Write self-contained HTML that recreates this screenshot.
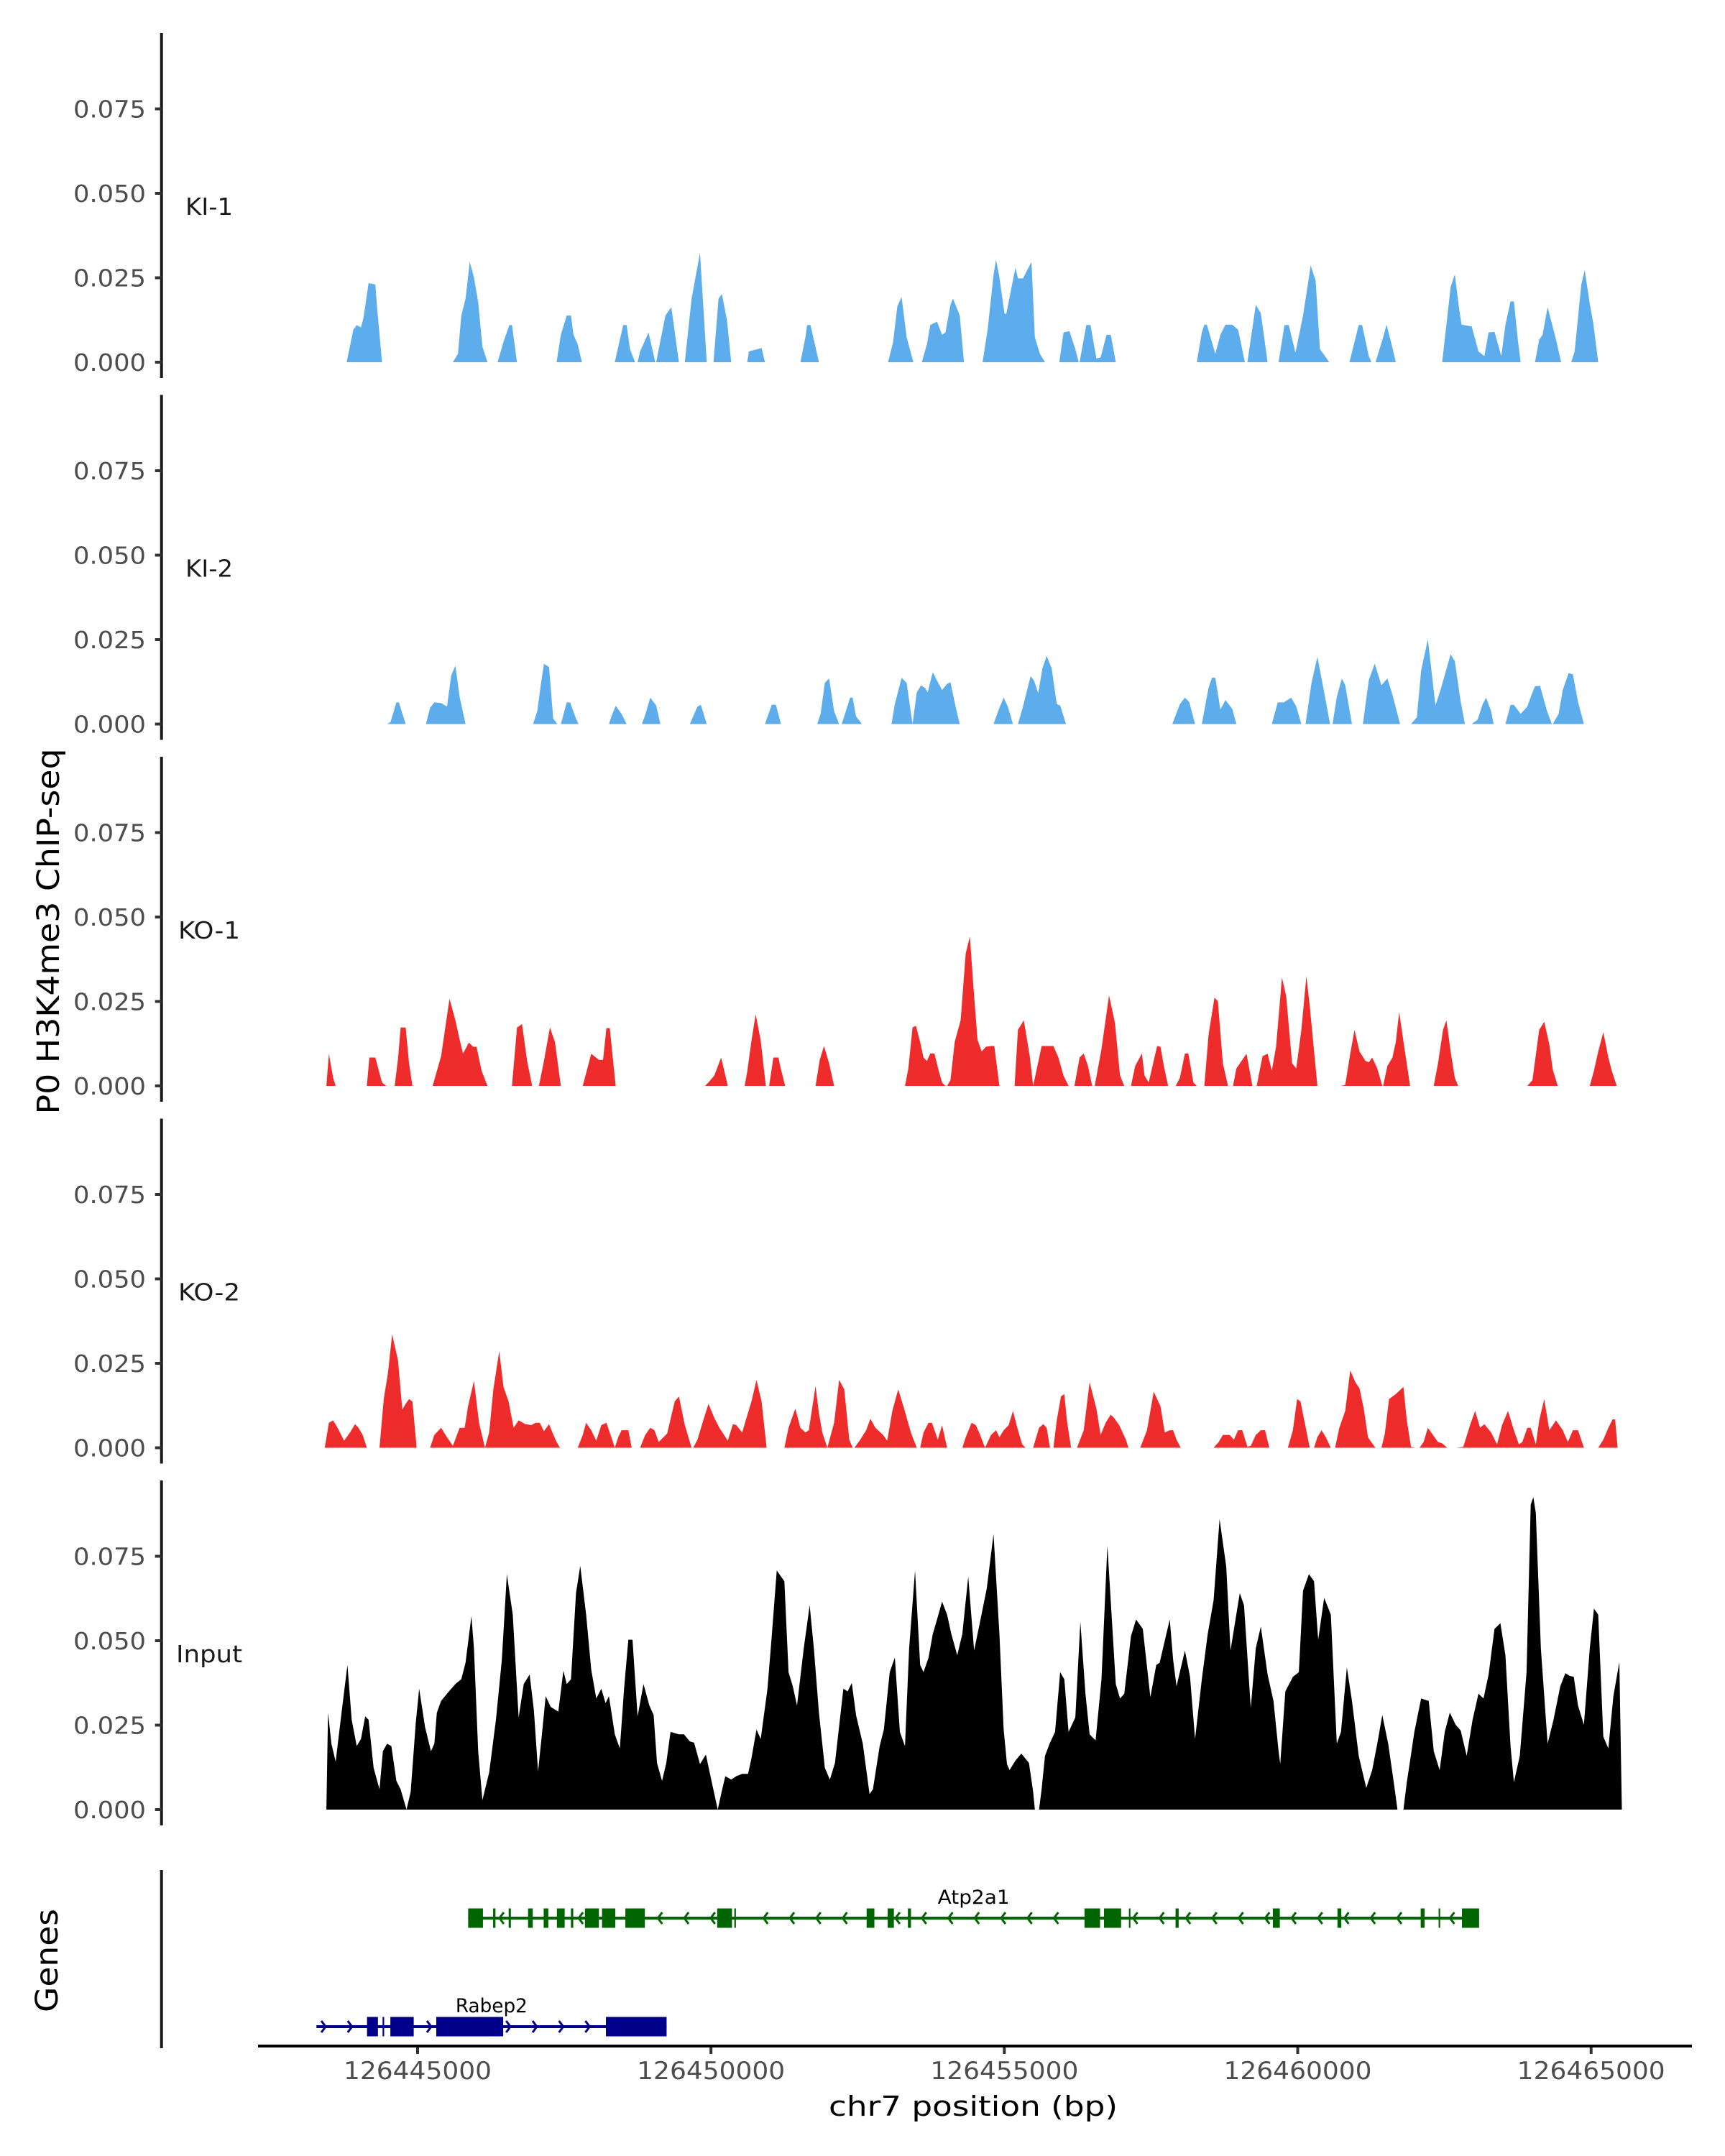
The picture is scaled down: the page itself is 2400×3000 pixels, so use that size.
<!DOCTYPE html>
<html><head><meta charset="utf-8">
<style>
html,body{margin:0;padding:0;background:#fff;}
svg{display:block;font-family:"DejaVu Sans","Liberation Sans",sans-serif;}
</style></head>
<body>
<svg id="chart" width="2400" height="3000" viewBox="0 0 2400 3000" xmlns="http://www.w3.org/2000/svg">
<text x="0" y="0" transform="translate(82,1296) rotate(-90)" text-anchor="middle" font-size="43" fill="#000" textLength="509" lengthAdjust="spacingAndGlyphs">P0 H3K4me3 ChIP-seq</text>
<text x="0" y="0" transform="translate(80,2728) rotate(-90)" text-anchor="middle" font-size="43" fill="#000" textLength="144" lengthAdjust="spacingAndGlyphs">Genes</text>
<text x="1354" y="2944" text-anchor="middle" font-size="38" fill="#000" textLength="402" lengthAdjust="spacingAndGlyphs">chr7 position (bp)</text>
</svg>
<script>
// ---- data ----
const REGION_START = 126443273;   // bp at coverage bin 0
const BIN_BP = 14.374;            // coverage bin width (bp)
const yTicks = [0, 0.025, 0.05, 0.075];
const yTickLabels = ["0.000", "0.025", "0.050", "0.075"];
const xTicks = [126445000, 126450000, 126455000, 126460000, 126465000];
const xTickLabels = ["126445000", "126450000", "126455000", "126460000", "126465000"];
const trackNames = ["KI-1", "KI-2", "KO-1", "KO-2", "Input"];

const ki1Bin = [36,44,48,53,56,62,70,72,78,162,168,172,177,182,187,192,197,203,215,222,229,232,238,285,290,297,302,305,310,315,354,360,364,368,372,378,381,384,394,402,403,414,421,430,437,445,455,463,471,477,481,487,492,511,513,528,532,574,580,582,586,596,678,684,689,694,700,708,718,724,728,736,742,746,752,755,763,768,790,796,803,806,810,816,818,829,832,838,848,852,858,864,881,886,893,900,904,905,913,918,925,930,937,942,948,1044,1050,1053,1056,1066,1072,1078,1086,1093,1101,1104,1114,1120,1128,1141,1148,1153,1161,1170,1177,1179,1185,1190,1198,1201,1225,1236,1240,1248,1251,1256,1265,1269,1275,1280,1335,1345,1350,1355,1358,1370,1378,1385,1390,1397,1405,1410,1416,1420,1425,1428,1445,1450,1454,1460,1470,1476,1488,1492,1500,1504,1510,1514,1520];
const ki1Val = [0,.0096,.011,.0103,.0131,.0234,.023,.0166,0,0,.0025,.0138,.0188,.0297,.0251,.0177,.0046,0,0,.006,.011,.011,0,0,.0081,.0138,.0138,.0081,.0053,0,0,.0067,.011,.011,.0039,0,0,.0032,.0088,0,0,.0138,.0163,0,0,.0188,.0324,0,0,.0188,.0202,.0124,0,0,.0032,.0042,0,0,.0074,.011,.011,0,0,.006,.0166,.0193,.0074,0,0,.0053,.011,.012,.0081,.0088,.017,.0189,.0138,0,0,.0096,.0258,.0304,.0251,.0145,.0142,.028,.0248,.0248,.0297,.0074,.0025,0,0,.0088,.0092,.0039,0,0,.011,.011,.0011,.0014,.0081,.0081,0,0,.0088,.0111,.0111,.0025,.0081,.0111,.0111,.0096,0,0,.017,.0145,0,0,.011,.011,.0028,.0138,.0251,.0287,.0241,.0039,.0011,0,0,.011,.011,.0018,0,0,.0074,.0111,.0053,0,0,.0223,.026,.0159,.0111,.0106,.0032,.0018,.0088,.009,.0018,.011,.018,.018,.006,0,0,.0067,.0081,.0163,.0067,0,0,.0032,.023,.0273,.0173,.0117,0];

const ki2Bin = [84,88,95,98,106,130,135,140,148,155,160,165,170,177,257,262,267,270,276,281,286,290,297,301,308,311,347,350,355,362,368,386,390,396,403,408,443,447,452,456,463,532,540,545,551,594,598,603,608,614,620,623,633,636,640,647,682,686,694,700,707,707,712,717,722,725,731,735,742,748,752,758,763,803,810,815,820,826,832,838,847,851,856,861,866,872,878,882,889,1015,1024,1030,1035,1042,1050,1058,1062,1066,1072,1078,1086,1091,1133,1140,1147,1156,1162,1168,1173,1180,1187,1194,1202,1205,1210,1216,1220,1228,1241,1248,1255,1263,1270,1276,1285,1298,1305,1310,1318,1327,1333,1345,1350,1357,1362,1370,1377,1383,1387,1393,1396,1410,1416,1420,1428,1436,1440,1445,1451,1459,1465,1466,1473,1478,1485,1490,1496,1503];
const ki2Val = [0,.0006,.0064,.0064,0,0,.0048,.0064,.0062,.0052,.0144,.0173,.008,0,0,.0038,.013,.0178,.0169,.0016,0,0,.0064,.0064,.0016,0,0,.0023,.0054,.003,0,0,.0027,.0078,.0055,0,0,.0023,.0052,.0057,0,0,.0057,.0057,0,0,.003,.0122,.0135,.0038,0,0,.0078,.0078,.0023,0,0,.0059,.0137,.0122,0,0,.0094,.0114,.0107,.0094,.0154,.0133,.0101,.0119,.0124,.0052,0,0,.0048,.0078,.0052,0,0,.0052,.0142,.0129,.0091,.0165,.0202,.0165,.0059,.0055,0,0,.0059,.0078,.0066,0,0,.0108,.0137,.0137,.0043,.0071,.0045,0,0,.0064,.0064,.0078,.0052,0,0,.0122,.0199,.0108,0,0,.008,.0135,.0115,0,0,.013,.0179,.0115,.0135,.0087,0,0,.002,.0158,.0251,.0055,.0101,.0207,.0186,.0066,0,0,.0013,.0059,.0078,.0038,0,0,.0057,.0057,.003,.0052,.008,.0112,.0113,.0041,0,0,.003,.0101,.0151,.0147,.0066,0];

const ko1Bin = [12,15,20,23,60,63,70,78,83,93,97,100,106,110,114,138,148,158,165,170,174,181,186,190,196,203,232,238,244,250,256,264,270,277,283,290,316,320,326,335,340,344,348,355,461,466,472,480,488,508,511,516,521,527,533,537,542,548,550,556,592,597,602,608,614,698,702,707,711,716,720,724,728,733,738,742,746,748,752,757,764,770,775,779,784,789,794,800,804,810,828,832,839,846,850,850,857,860,874,880,886,892,899,905,910,915,920,923,931,940,947,953,958,966,971,979,982,987,997,1001,1005,1010,1019,1024,1030,1034,1040,1044,1053,1058,1065,1069,1075,1081,1087,1091,1098,1103,1110,1115,1122,1128,1133,1138,1145,1150,1157,1162,1168,1174,1178,1187,1215,1220,1226,1231,1237,1244,1248,1252,1258,1264,1265,1270,1276,1280,1284,1290,1297,1325,1330,1336,1340,1345,1350,1354,1436,1442,1450,1456,1462,1466,1472,1510,1515,1520,1526,1532,1536,1542];
const ko1Val = [0,.0095,.0024,0,0,.0084,.0084,.001,0,0,.0081,.0173,.0173,.0067,0,0,.0088,.0258,.0194,.0137,.0096,.0128,.0116,.0116,.0045,0,0,.0173,.0183,.0074,0,0,.0074,.0173,.013,0,0,.0038,.0095,.0077,.0077,.0171,.0171,0,0,.0013,.0031,.0084,0,0,.0042,.0134,.0212,.0134,0,0,.0084,.0084,.0059,0,0,.0077,.0118,.0067,0,0,.0052,.0173,.0178,.013,.0084,.0074,.0096,.0096,.0045,.001,0,0,.0017,.013,.0194,.0392,.0442,.03,.0137,.0102,.0116,.0118,.0118,0,0,.0166,.0194,.0088,0,0,.0081,.0118,.0118,.0084,.003,0,0,.0084,.0096,.0059,0,0,.0109,.0268,.0187,.0031,0,0,.0059,.0096,.0031,.001,.0118,.0116,.0059,0,0,.0024,.0096,.0096,.001,0,0,.0152,.0261,.0251,.0067,0,0,.0052,.0077,.0095,0,0,.0088,.0095,.0045,.0116,.0321,.0265,.0067,.0052,.0166,.0325,.0236,0,0,.0003,.0095,.0166,.0102,.0074,.007,.0084,.0052,0,0,.0059,.0084,.013,.0219,.0116,0,0,.0067,.0166,.0194,.0102,.0024,0,0,.0017,.0166,.019,.0123,.0049,0,0,.0045,.0102,.0159,.0084,.0045,0];

const ko2Bin = [10,15,20,26,33,40,46,50,55,60,75,80,85,90,97,102,106,110,114,119,135,140,148,155,162,170,176,180,187,193,200,200,205,210,217,222,228,234,240,248,255,260,265,270,276,280,285,289,310,316,320,326,332,338,344,349,354,354,358,362,370,374,384,390,396,401,406,416,425,430,437,445,447,452,458,465,472,478,488,494,498,505,510,516,522,528,534,555,560,568,574,580,584,592,596,600,606,606,614,620,626,632,636,638,645,652,657,663,672,677,683,690,697,705,712,716,720,726,730,737,742,748,766,770,777,782,786,793,793,800,806,810,815,821,826,832,837,841,850,857,862,866,870,874,878,883,887,890,895,902,910,917,925,930,936,942,946,952,960,963,977,985,993,1001,1006,1012,1016,1020,1025,1064,1070,1075,1083,1088,1093,1098,1104,1108,1114,1120,1125,1130,1152,1158,1163,1167,1172,1178,1183,1187,1192,1197,1203,1208,1213,1220,1226,1232,1237,1242,1247,1252,1256,1263,1267,1272,1280,1289,1293,1298,1303,1308,1313,1318,1324,1330,1335,1341,1352,1360,1368,1374,1380,1385,1393,1400,1406,1413,1420,1426,1430,1436,1440,1446,1450,1456,1462,1470,1478,1484,1490,1496,1503,1520,1526,1532,1537,1540,1543];
const ko2Val = [0,.0074,.0081,.0056,.0021,.0045,.007,.0059,.0038,0,0,.0144,.0222,.0336,.0258,.0113,.013,.0144,.0137,0,0,.0038,.0059,.0031,.0006,.0059,.0059,.0123,.0198,.0074,0,0,.0045,.0173,.0286,.018,.0137,.0059,.0081,.007,.0067,.0074,.0074,.0049,.007,.0045,.0017,0,0,.0038,.0074,.0052,.0021,.0067,.0074,.0038,0,0,.0031,.0052,.0052,0,0,.0038,.0059,.0052,.0017,.0042,.0137,.0152,.0067,0,0,.0024,.0074,.013,.0088,.0059,.0021,.007,.0067,.0045,.0088,.0137,.0201,.0137,0,0,.0059,.0116,.0059,.0045,.0052,.0183,.0102,.0045,0,0,.0074,.0201,.0173,.0024,0,0,.0024,.0052,.0086,.0059,.0038,.0021,.0109,.0173,.0116,.0045,0,0,.0045,.0074,.0074,.0024,.0067,0,0,.0031,.0074,.0067,.0045,0,0,.0038,.0052,.0031,.0052,.0067,.0109,.0052,.001,0,0,.0059,.007,.0059,0,0,.0081,.0152,.0159,.0081,0,0,.0052,.0194,.0116,.0038,.0074,.0098,.0088,.0067,.0024,0,0,.0052,.0166,.0123,.0045,.0052,.0052,.0024,0,0,.0017,.0038,.0038,.0024,.0052,.0052,.0003,.0006,.0038,.0052,.0052,0,0,.0052,.0144,.0137,.0074,0,0,.0031,.0052,.0031,0,0,.0059,.0109,.0229,.0194,.0176,.0116,.0031,.0013,0,0,.0042,.0144,.0159,.018,.0081,.0003,0,0,.0017,.0059,.0038,.0017,.0013,0,0,.0003,.0067,.0109,.0059,.007,.0045,.001,.0067,.0109,.0052,.001,.0017,.0059,.0059,.001,.0081,.0144,.0052,.0081,.0052,.0017,.0052,.0052,0,0,.0024,.0059,.0084,.0084,0];

const inputBin = [12,14,18,23,30,37,42,48,53,58,62,68,75,79,84,89,95,100,107,112,118,122,129,136,140,143,148,155,165,172,177,184,187,192,197,205,213,220,226,233,240,246,253,258,263,268,272,278,287,293,297,302,308,313,320,326,332,338,343,347,354,360,365,370,375,381,388,395,400,404,410,415,420,430,436,443,448,455,462,468,476,480,485,492,498,505,512,516,522,527,535,540,546,555,560,565,570,578,585,590,596,603,609,615,625,630,635,640,648,656,660,668,673,680,686,692,698,703,710,716,720,726,731,736,742,748,753,760,766,773,780,787,795,803,810,815,819,822,829,836,845,850,852,857,860,864,870,876,882,887,892,900,906,912,917,924,931,938,948,953,958,966,972,980,989,996,1000,1012,1016,1020,1030,1036,1042,1050,1057,1064,1071,1079,1084,1095,1100,1108,1114,1120,1128,1135,1141,1143,1149,1158,1165,1170,1177,1183,1188,1195,1203,1210,1215,1222,1228,1236,1245,1252,1258,1264,1271,1278,1282,1289,1293,1297,1302,1310,1319,1325,1332,1338,1344,1351,1357,1364,1371,1378,1384,1390,1397,1404,1410,1416,1420,1427,1435,1440,1443,1446,1452,1460,1467,1475,1481,1486,1491,1496,1503,1510,1515,1520,1526,1532,1538,1545,1548];
const inputVal = [0,.0287,.0195,.0142,.0287,.0428,.0266,.0188,.0209,.0276,.0266,.0124,.006,.0173,.0195,.0188,.0085,.006,0,.0053,.0258,.0358,.0244,.0173,.0195,.0287,.0322,.0343,.0372,.0386,.0435,.0573,.0478,.0173,.0028,.011,.0266,.0443,.0697,.0577,.0273,.0372,.04,.0294,.0113,.0234,.0336,.0304,.029,.0411,.0372,.0386,.0641,.0722,.0577,.0414,.0329,.0358,.0315,.0336,.0223,.0181,.0358,.0503,.0503,.0276,.0372,.0308,.028,.0138,.0085,.0138,.023,.0223,.0223,.0202,.0198,.0135,.0163,.0092,0,.0046,.0099,.0089,.0099,.0106,.0106,.0152,.0237,.0209,.0358,.0513,.0708,.0676,.0407,.0365,.0308,.0478,.0605,.0478,.0287,.0124,.0089,.0138,.0358,.035,.0375,.028,.0195,.0046,.006,.0188,.0237,.0407,.045,.023,.0188,.0478,.0708,.0428,.0407,.045,.052,.0563,.0616,.0577,.052,.0457,.052,.069,.0471,.0556,.0655,.0816,.052,.0237,.0135,.0117,.0145,.0166,.0138,.0053,0,0,.006,.0159,.0198,.023,.0407,.0386,.023,.0273,.0556,.0343,.0223,.0205,.0386,.0782,.0372,.0329,.0343,.0513,.0563,.0535,.0333,.0428,.0435,.0563,.0443,.0365,.0471,.0393,.0209,.0386,.052,.062,.086,.0719,.0471,.0641,.0605,.0301,.0478,.0542,.04,.0322,.0173,.0135,.035,.0393,.0407,.0648,.0697,.0676,.0503,.0627,.0577,.0195,.023,.0421,.0322,.0159,.0064,.0117,.0195,.028,.0195,.0074,0,0,.0081,.0145,.023,.0329,.0322,.0173,.0117,.023,.0287,.0251,.0234,.0159,.0266,.0343,.0329,.04,.0535,.0552,.0457,.0188,.0081,.0159,.0407,.0903,.0925,.0878,.0478,.0195,.0266,.0365,.0404,.0396,.0393,.0308,.0251,.0478,.0595,.0577,.0216,.0181,.0336,.0437,0];

const geneNames = ["Atp2a1", "Rabep2"];
const geneStart = [126445862, 126443276];
const geneEnd = [126463091, 126449244];
const geneStrand = ["-", "+"];
const atp2a1Exons = [[126445862,126446114],[126446287,126446327],[126446552,126446590],[126446883,126446963],[126447149,126447228],[126447374,126447507],[126447613,126447653],[126447852,126448090],[126448143,126448369],[126448541,126448873],[126450106,126450358],[126450398,126450425],[126452653,126452785],[126453011,126453117],[126453356,126453409],[126456366,126456631],[126456698,126456990],[126457123,126457149],[126457918,126457971],[126459576,126459695],[126460677,126460743],[126462096,126462162],[126462401,126462428],[126462799,126463091]];
const rabep2Exons = [[126444138,126444324],[126444403,126444430],[126444536,126444934],[126445318,126446459],[126448210,126449244]];

// ---- scales / layout ----
const NS = "http://www.w3.org/2000/svg";
const svg = document.getElementById("chart");
const X0 = 581, PX_PER_BP = 0.081635, BP0 = 126445000;
function xScale(bp){ return X0 + (bp - BP0) * PX_PER_BP; }
function binToBp(b){ return REGION_START + b * BIN_BP; }
const panelZero = [504, 1007.5, 1511, 2014.5, 2518];
const PX_PER_UNIT = 4700;
function yScale(i, v){ return panelZero[i] - v * PX_PER_UNIT; }
const AXIS_X = 224.7;
function mk(tag, attrs, parent){
  const el = document.createElementNS(NS, tag);
  for (const k in attrs) el.setAttribute(k, attrs[k]);
  (parent || svg).appendChild(el);
  return el;
}

const trackBins = [ki1Bin, ki2Bin, ko1Bin, ko2Bin, inputBin];
const trackVals = [ki1Val, ki2Val, ko1Val, ko2Val, inputVal];
const trackColors = ["#5dadec", "#5dadec", "#ee2c2c", "#ee2c2c", "#000000"];
const labelWidths = {"KI-1": 66, "KI-2": 66, "KO-1": 86, "KO-2": 86, "Input": 92};

trackNames.forEach((name, i) => {
  const g = mk("g", {});
  
  
  const z = panelZero[i];
  const line = mk("line", {x1: AXIS_X, x2: AXIS_X, y1: z - 458, y2: z + 22, stroke: "#1a1a1a", "stroke-width": 4}, g);
  
  
  yTicks.forEach((t, k) => {
    const y = yScale(i, t);
    const tk = mk("line", {x1: AXIS_X - 9, x2: AXIS_X, y1: y, y2: y, stroke: "#333", "stroke-width": 4}, g);
    
    
    const tl = mk("text", {x: 203, y: y + 12, "text-anchor": "end", "font-size": 33, fill: "#4d4d4d", textLength: 101, lengthAdjust: "spacingAndGlyphs"}, g);
    tl.textContent = yTickLabels[k];
    
    
  });
  const lab = mk("text", {x: 291, y: z - 205, "text-anchor": "middle", "font-size": 33, fill: "#1a1a1a", textLength: labelWidths[name], lengthAdjust: "spacingAndGlyphs"}, g);
  lab.textContent = name;
  
  
  const bins = trackBins[i], vals = trackVals[i];
  let d = "M" + xScale(binToBp(bins[0])).toFixed(1) + "," + z;
  for (let j = 0; j < bins.length; j++) {
    d += "L" + xScale(binToBp(bins[j])).toFixed(1) + "," + yScale(i, vals[j]).toFixed(1);
  }
  d += "L" + xScale(binToBp(bins[bins.length - 1])).toFixed(1) + "," + z + "Z";
  const area = mk("path", {d: d, fill: trackColors[i], stroke: "none"}, g);
  
  
});

// genes panel
const gl = mk("line", {x1: AXIS_X, x2: AXIS_X, y1: 2602, y2: 2850, stroke: "#1a1a1a", "stroke-width": 4});



const geneY = [2669, 2820];
const geneColor = ["#006400", "#00008b"];
const geneExons = [atp2a1Exons, rabep2Exons];
geneNames.forEach((gname, i) => {
  const g = mk("g", {});
  
  
  const y = geneY[i], col = geneColor[i];
  const x1 = xScale(geneStart[i]), x2 = xScale(geneEnd[i]);
  const ln = mk("line", {x1: x1, x2: x2, y1: y, y2: y, stroke: col, "stroke-width": 4}, g);
  
  
  for (let bp = geneStart[i] + 120; bp < geneEnd[i] - 100; bp += 450) {
    const inExon = geneExons[i].some(e => bp > e[0] - 60 && bp < e[1] + 60);
    if (inExon) continue;
    const cx = xScale(bp);
    const s = geneStrand[i] === "-" ? 1 : -1;
    const ch = mk("polyline", {points: (cx + 3*s) + "," + (y - 8) + " " + (cx - 3*s) + "," + y + " " + (cx + 3*s) + "," + (y + 8), fill: "none", stroke: col, "stroke-width": 3}, g);
    
    
  }
  geneExons[i].forEach(e => {
    const ex = mk("rect", {x: xScale(e[0]), y: y - 13.5, width: Math.max(2, xScale(e[1]) - xScale(e[0])), height: 27, fill: col}, g);
    
    
  });
  const t = mk("text", {x: (x1 + x2) / 2, y: y - 20, "text-anchor": "middle", "font-size": 27, fill: "#000", textLength: 100, lengthAdjust: "spacingAndGlyphs"}, g);
  t.textContent = gname;
  
  
});

// x axis
const xa = mk("line", {x1: 359, x2: 2354, y1: 2847, y2: 2847, stroke: "#000", "stroke-width": 4});


xTicks.forEach((t, k) => {
  const x = xScale(t);
  const tk = mk("line", {x1: x, x2: x, y1: 2849, y2: 2858, stroke: "#333", "stroke-width": 4});
  
  
  const tl = mk("text", {x: x, y: 2893, "text-anchor": "middle", "font-size": 34, fill: "#4d4d4d", textLength: 206, lengthAdjust: "spacingAndGlyphs"});
  tl.textContent = xTickLabels[k];
  
  
});
</script>
</body></html>
